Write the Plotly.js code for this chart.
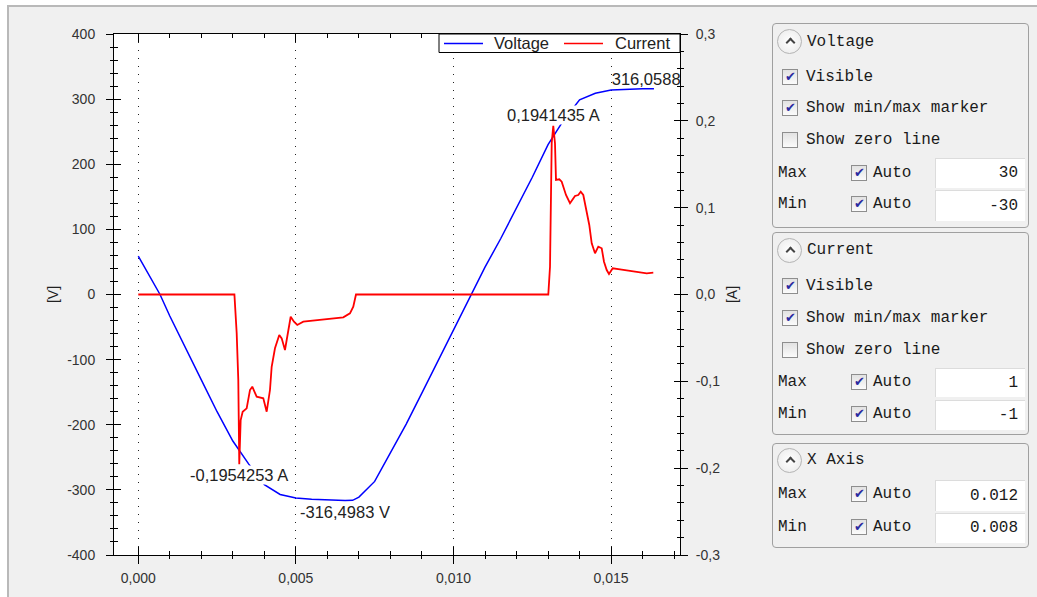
<!DOCTYPE html>
<html><head><meta charset="utf-8">
<script src="https://cdn.plot.ly/plotly-3.0.1.min.js"></script>
<style>
html,body{margin:0;padding:0;width:1037px;height:597px;overflow:hidden;background:#fff;}
#bg{position:absolute;left:7px;top:5px;width:1030px;height:592px;background:#f0f0f0;border-top:2px solid #b9b9b9;border-left:2px solid #b9b9b9;box-sizing:border-box;}
#chart{position:absolute;left:0;top:0;width:1037px;height:597px;}
.grp{position:absolute;left:772px;width:257px;border:1px solid #a0a0a0;border-radius:4px;box-sizing:border-box;}
.t{position:absolute;font-family:"Liberation Mono",monospace;font-size:16px;line-height:18px;color:#1a1a1a;white-space:pre;}
.cb{position:absolute;width:16px;height:16px;box-sizing:border-box;border:1px solid #8e8e8e;background:linear-gradient(#e2e2e2,#fbfbfb);}
.cb.on::after{content:"\2714";position:absolute;left:2px;top:-1px;font-family:"DejaVu Sans",sans-serif;font-size:13px;line-height:15px;color:#2b2ba0;}
.inp{position:absolute;left:935px;width:90px;background:#fff;border-top:1px solid #dcdcdc;border-left:1px solid #dcdcdc;box-sizing:border-box;font-family:"Liberation Mono",monospace;font-size:16px;color:#1a1a1a;text-align:right;padding-right:7px;}
.circ{position:absolute;left:777px;width:25px;height:25px;border-radius:50%;border:1px solid #b4b4b4;box-sizing:border-box;background:radial-gradient(#ffffff,#e9e9e9);}
.circ::after{content:"";position:absolute;left:9px;top:9px;width:5px;height:5px;border-left:2px solid #444;border-top:2px solid #444;transform:rotate(45deg);}
</style></head>
<body>
<div id="bg"></div>
<div id="chart"></div>
<div id="panel"></div>
<script>
// ---- data ----
const tVoltage = [0, 0.0005, 0.00069, 0.001, 0.0015, 0.002, 0.0025, 0.003, 0.0035, 0.004, 0.0045, 0.005, 0.0055, 0.006, 0.00656, 0.0068, 0.0070, 0.0075, 0.008, 0.0085, 0.009, 0.0095, 0.010, 0.0105, 0.011, 0.0115, 0.012, 0.0125, 0.013, 0.0135, 0.014, 0.0145, 0.015, 0.0155, 0.016, 0.01636];
const voltage  = [59, 14.6, 0, -33, -81, -131, -180, -225, -260, -292, -307, -312.5, -314.5, -315.6, -316.4983, -316.1, -311, -287, -243, -199, -151, -103, -53, -5, 42, 86, 133, 180, 230, 268, 299, 309, 314, 315.5, 315.9, 316.0588];

const tCurrent = [0, 0.00305, 0.003122, 0.003173, 0.003204, 0.003249, 0.003312, 0.003439, 0.003544, 0.003617, 0.003756, 0.003966, 0.004074, 0.004178, 0.004232, 0.004337, 0.004473, 0.00455, 0.004654, 0.004759, 0.004835, 0.00494, 0.005044, 0.005235, 0.005977, 0.006504, 0.006716, 0.006821, 0.006907, 0.013008, 0.013062, 0.013084, 0.013116, 0.013166, 0.01322, 0.013252, 0.013357, 0.013433, 0.013569, 0.013696, 0.013855, 0.013959, 0.014036, 0.014118, 0.014204, 0.014308, 0.014385, 0.01449, 0.014594, 0.014702, 0.014775, 0.014861, 0.014934, 0.015051, 0.015283, 0.0156, 0.015917, 0.01613, 0.016339];
const current  = [0, 0, -0.0444, -0.0985, -0.1954253, -0.1446, -0.135, -0.1311, -0.11, -0.1062, -0.1177, -0.1196, -0.135, -0.11, -0.0832, -0.062, -0.0467, -0.0505, -0.0639, -0.0409, -0.0256, -0.0313, -0.0351, -0.0313, -0.0286, -0.0263, -0.0217, -0.0141, 0, 0, 0.032, 0.1089, 0.1745, 0.1941435, 0.1742, 0.1319, 0.1327, 0.13, 0.1146, 0.1051, 0.1135, 0.1146, 0.1184, 0.1146, 0.0973, 0.0801, 0.059, 0.0475, 0.0551, 0.0532, 0.0378, 0.0282, 0.0236, 0.0302, 0.029, 0.0274, 0.0263, 0.0244, 0.0251];

const seriesNames = ['Voltage', 'Current'];
const seriesColors = ['#0000ff', '#ff0000'];
const axisTitles = ['[V]', '[A]'];

const xTickVals = [0, 0.005, 0.010, 0.015];
const xTickText = ['0,000', '0,005', '0,010', '0,015'];
const vTickVals = [-400, -300, -200, -100, 0, 100, 200, 300, 400];
const vTickText = ['-400', '-300', '-200', '-100', '0', '100', '200', '300', '400'];
const iTickVals = [-0.3, -0.2, -0.1, 0, 0.1, 0.2, 0.3];
const iTickText = ['-0,3', '-0,2', '-0,1', '0,0', '0,1', '0,2', '0,3'];

// ---- extremes ----
function ext(ts, vs, fn){ let k = 0; vs.forEach((v,i)=>{ if (fn(v, vs[k])) k = i; }); return {t: ts[k], v: vs[k]}; }
const vMax = ext(tVoltage, voltage, (a,b)=>a>b), vMin = ext(tVoltage, voltage, (a,b)=>a<b);
const iMax = ext(tCurrent, current, (a,b)=>a>b), iMin = ext(tCurrent, current, (a,b)=>a<b);
const fmt = (v, d, u) => v.toFixed(d).replace('.', ',') + ' ' + u;

const xr = [-0.00077, 0.017186];
const FONT = '"Liberation Sans", Arial, sans-serif';
const lblFont = {family:FONT, size:16.5, color:'#222'};
const blank = {showlegend:false, hoverinfo:'skip', mode:'lines', x:[], y:[]};

const traces = [
  {x:tVoltage, y:voltage, name:seriesNames[0], mode:'lines', line:{color:seriesColors[0], width:1.5}, xaxis:'x', yaxis:'y', hoverinfo:'skip', showlegend:false},
  {x:tCurrent, y:current, name:seriesNames[1], mode:'lines', line:{color:seriesColors[1], width:1.8}, xaxis:'x', yaxis:'y2', hoverinfo:'skip', showlegend:false},
  {x:[vMax.t], y:[vMax.v], mode:'text', text:[fmt(vMax.v,4,'V')], textposition:'top center', textfont:lblFont, cliponaxis:true, showlegend:false, hoverinfo:'skip', xaxis:'x', yaxis:'y'},
  Object.assign({xaxis:'x3', yaxis:'y'}, blank),
  Object.assign({xaxis:'x', yaxis:'y3'}, blank),
  Object.assign({xaxis:'x', yaxis:'y4'}, blank)
];

// legend box geometry (pixel helpers relative to the plot area 114..680 x 34..555)
const P = px => (px - 114) / 566, Q = py => (555 - py) / 521;
const legendShapes = [
  {type:'rect', xref:'paper', yref:'paper', x0:P(439), x1:P(680), y0:Q(52.5), y1:Q(34), line:{color:'#000', width:1}, fillcolor:'#fff', layer:'above'},
  {type:'line', xref:'paper', yref:'paper', x0:P(444), x1:P(483), y0:Q(43.5), y1:Q(43.5), line:{color:seriesColors[0], width:1.5}, layer:'above'},
  {type:'line', xref:'paper', yref:'paper', x0:P(564), x1:P(603), y0:Q(43.5), y1:Q(43.5), line:{color:seriesColors[1], width:1.5}, layer:'above'}
];
const legendLabels = [
  {xref:'paper', yref:'paper', x:P(492), y:Q(43.5), text:seriesNames[0], showarrow:false, xanchor:'left', yanchor:'middle', font:lblFont},
  {xref:'paper', yref:'paper', x:P(613), y:Q(43.5), text:seriesNames[1], showarrow:false, xanchor:'left', yanchor:'middle', font:lblFont}
];

const tk = {tickcolor:'#000', tickwidth:1, showgrid:false, zeroline:false, tickmode:'array'};
const layout = {
  width:1037, height:597,
  margin:{l:114, r:357, t:34, b:42, pad:0},
  paper_bgcolor:'rgba(0,0,0,0)', plot_bgcolor:'#fff',
  font:{family:FONT, size:14, color:'#333'},
  showlegend:false,
  xaxis:Object.assign({}, tk, {range:xr, tickvals:xTickVals, ticktext:xTickText, ticks:'inside', ticklen:8, mirror:'ticks', showline:true, linecolor:'#000', linewidth:1, showgrid:true, gridcolor:'#222', griddash:'1px,7px', gridwidth:1, ticklabelstandoff:10, minor:{tickmode:'linear', tick0:0, dtick:0.001, ticks:'inside', ticklen:4, tickcolor:'#000', showgrid:false}}),
  xaxis3:Object.assign({}, tk, {overlaying:'x', anchor:'y', side:'bottom', range:xr, tickvals:xTickVals, ticks:'outside', ticklen:8, showticklabels:false, showline:false, minor:{tickmode:'linear', tick0:0, dtick:0.001, ticks:'outside', ticklen:3, tickcolor:'#000'}}),
  yaxis:Object.assign({}, tk, {range:[-400,400], tickvals:vTickVals, ticktext:vTickText, ticks:'outside', ticklen:7, showline:true, linecolor:'#000', linewidth:1, ticklabelstandoff:8, title:{text:axisTitles[0], standoff:5, font:{size:14, color:'#222'}}, minor:{tickmode:'linear', tick0:0, dtick:20, ticks:'outside', ticklen:3, tickcolor:'#000'}}),
  yaxis3:Object.assign({}, tk, {overlaying:'y', anchor:'x', side:'left', range:[-400,400], tickvals:vTickVals, ticks:'inside', ticklen:7, showticklabels:false, showline:false, minor:{tickmode:'linear', tick0:0, dtick:20, ticks:'inside', ticklen:4, tickcolor:'#000'}}),
  yaxis2:Object.assign({}, tk, {overlaying:'y', anchor:'x', side:'right', range:[-0.3,0.3], tickvals:iTickVals, ticktext:iTickText, ticks:'outside', ticklen:7, showline:true, linecolor:'#000', linewidth:1, ticklabelstandoff:5, title:{text:axisTitles[1], standoff:8, font:{size:14, color:'#222'}}, minor:{tickmode:'linear', tick0:0, dtick:0.02, ticks:'outside', ticklen:3, tickcolor:'#000'}}),
  yaxis4:Object.assign({}, tk, {overlaying:'y', anchor:'x', side:'right', range:[-0.3,0.3], tickvals:iTickVals, ticks:'inside', ticklen:6, showticklabels:false, showline:false, minor:{tickmode:'linear', tick0:0, dtick:0.02, ticks:'inside', ticklen:3, tickcolor:'#000'}}),
  shapes:legendShapes,
  annotations:[
    {x:iMin.t, y:iMin.v, xref:'x', yref:'y2', text:fmt(iMin.v,7,'A'), showarrow:false, xanchor:'center', yanchor:'top', yshift:-1, bgcolor:'#fff', borderpad:0, font:lblFont},
    {x:iMax.t, y:iMax.v, xref:'x', yref:'y2', text:fmt(iMax.v,7,'A'), showarrow:false, xanchor:'center', yanchor:'bottom', yshift:1, bgcolor:'#fff', borderpad:0, font:lblFont},
    {x:vMin.t, y:vMin.v, xref:'x', yref:'y', text:fmt(vMin.v,4,'V'), showarrow:false, xanchor:'center', yanchor:'top', yshift:-1, bgcolor:'#fff', borderpad:0, font:lblFont}
  ].concat(legendLabels)
};

Plotly.newPlot('chart', traces, layout, {staticPlot:true, displayModeBar:false});

// ---- settings panel ----
const panel = document.getElementById('panel');
function add(cls, style, text){ const d = document.createElement('div'); d.className = cls; Object.assign(d.style, style); if (text !== undefined) d.textContent = text; panel.appendChild(d); return d; }
function row(label, cy, on){ add('cb' + (on ? ' on' : ''), {left:'782px', top:(cy-8)+'px'}); add('t', {left:'806px', top:(cy-9)+'px'}, label); }
function rng(label, cy, top, h, val){ add('t', {left:'778px', top:(cy-9)+'px'}, label); add('cb on', {left:'851px', top:(cy-8)+'px'}); add('t', {left:'873px', top:(cy-9)+'px'}, 'Auto'); add('inp', {top:top+'px', height:h+'px', lineHeight:(h-1)+'px'}, val); }
function head(label, cy){ add('circ', {top:(cy-12.5)+'px'}); add('t', {left:'807px', top:(cy-9)+'px'}, label); }

add('grp', {top:'23px', height:'205px'});
head('Voltage', 41.7);
row('Visible', 76.7, true); row('Show min/max marker', 108.3, true); row('Show zero line', 140, false);
rng('Max', 173.3, 158, 30, '30'); rng('Min', 204, 190, 31, '-30');

add('grp', {top:'232px', height:'203px'});
head('Current', 250);
row('Visible', 285.7, true); row('Show min/max marker', 318.3, true); row('Show zero line', 350, false);
rng('Max', 382.3, 368, 29, '1'); rng('Min', 414.3, 400, 30, '-1');

add('grp', {top:'443px', height:'105px'});
head('X Axis', 460);
rng('Max', 494, 480, 31, '0.012'); rng('Min', 527.3, 513, 30, '0.008');
</script>
</body></html>
